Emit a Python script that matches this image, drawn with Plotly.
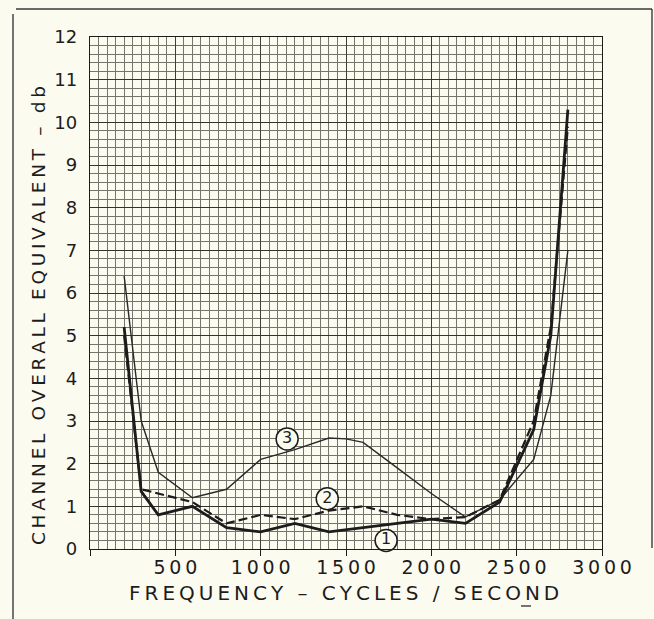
import plotly.graph_objects as go

# ---- data ----
freq_1 = [200, 300, 400, 600, 800, 1000, 1200, 1400, 1600, 1800, 2000, 2200, 2400, 2600, 2700, 2800]
db_1 = [5.2, 1.35, 0.8, 1.0, 0.5, 0.4, 0.6, 0.4, 0.5, 0.6, 0.7, 0.6, 1.1, 2.8, 5.0, 10.3]

freq_2 = [200, 300, 600, 800, 1000, 1200, 1400, 1600, 1800, 2000, 2200, 2400, 2600, 2700, 2800]
db_2 = [5.0, 1.4, 1.1, 0.6, 0.8, 0.7, 0.9, 1.0, 0.8, 0.7, 0.75, 1.15, 3.0, 5.2, 9.9]

freq_3 = [200, 300, 400, 600, 800, 1000, 1200, 1400, 1500, 1600, 1800, 2000, 2200, 2400, 2600, 2700, 2800]
db_3 = [6.4, 3.0, 1.8, 1.2, 1.4, 2.1, 2.33, 2.6, 2.58, 2.5, 1.9, 1.3, 0.75, 1.15, 2.1, 3.6, 7.0]

curve_labels = ["1", "2", "3"]
label_freq = [1735, 1390, 1155]
label_db = [0.2, 1.18, 2.58]

x_tickvals = [0, 500, 1000, 1500, 2000, 2500, 3000]
x_ticktext = ["", "500", "1000", "1500", "2000", "2500", "3000"]
y_tickvals = list(range(0, 13))
y_ticktext = [str(v) for v in y_tickvals]

x_title = "FREQUENCY – CYCLES / SECOND"
y_title = "CHANNEL OVERALL EQUIVALENT – db"

SP = "\u2009"


def spaced(s):
    return SP.join(list(s))


INK = "#1c1c1c"
BG = "#fcfbf0"
FONT = "DejaVu Sans"

fig = go.Figure()

fig.add_trace(go.Scatter(x=freq_3, y=db_3, mode="lines",
                         line=dict(color="#2a2a2a", width=1.4), showlegend=False))
fig.add_trace(go.Scatter(x=freq_2, y=db_2, mode="lines",
                         line=dict(color=INK, width=2.2, dash="9px,4px"), showlegend=False))
fig.add_trace(go.Scatter(x=freq_1, y=db_1, mode="lines",
                         line=dict(color=INK, width=2.8), showlegend=False))

fig.add_trace(go.Scatter(
    x=label_freq, y=label_db, mode="markers+text",
    text=curve_labels, textposition="middle center",
    textfont=dict(family=FONT, size=16, color=INK),
    marker=dict(symbol="circle", size=22, color=BG,
                line=dict(color=INK, width=1.5)),
    showlegend=False, cliponaxis=False))

fig.update_xaxes(
    range=[0, 3000],
    tickmode="array", tickvals=x_tickvals, ticktext=[spaced(t) for t in x_ticktext],
    ticks="outside", ticklen=6, tickwidth=1.2, tickcolor=INK,
    ticklabelstandoff=-5,
    tickfont=dict(family=FONT, size=19, color=INK),
    showgrid=True, gridcolor="#3e3e3a", gridwidth=1.1,
    minor=dict(tick0=0, dtick=50, showgrid=True, gridcolor="#74736c", gridwidth=0.9, ticks=""),
    showline=True, mirror=True, linecolor=INK, linewidth=1.3,
    zeroline=False,
)
fig.update_yaxes(
    range=[0, 12],
    tickmode="array", tickvals=y_tickvals, ticktext=y_ticktext,
    ticks="", ticklabelstandoff=8,
    tickfont=dict(family=FONT, size=18, color=INK),
    showgrid=True, gridcolor="#33332f", gridwidth=1.4,
    minor=dict(tick0=0, dtick=0.2, showgrid=True, gridcolor="#74736c", gridwidth=0.9, ticks=""),
    showline=True, mirror=True, linecolor=INK, linewidth=1.3,
    zeroline=False,
)


# pixel -> paper helpers (plot area is 512x512 starting at px 90, 37)
def px_x(p):
    return (p - 90) / 512.0


def px_y(p):
    return (549 - p) / 512.0


fig.add_annotation(text=spaced(x_title), xref="paper", yref="paper",
                   x=px_x(344), y=px_y(593), showarrow=False,
                   font=dict(family=FONT, size=20, color=INK),
                   xanchor="center", yanchor="middle")
fig.add_annotation(text=spaced(y_title), xref="paper", yref="paper",
                   x=px_x(38), y=px_y(316), showarrow=False, textangle=-90,
                   font=dict(family=FONT, size=18.5, color=INK),
                   xanchor="center", yanchor="middle")

frame_lines = [
    (13, 14, 13, 619),
    (16, 9, 652, 9),
    (652, 9, 652, 548),
    (521, 606, 531, 606),
]
for x0, y0, x1, y1 in frame_lines:
    fig.add_shape(type="line", xref="paper", yref="paper",
                  x0=px_x(x0), y0=px_y(y0), x1=px_x(x1), y1=px_y(y1),
                  line=dict(color="#3a3a3a", width=1.4))

fig.update_layout(
    width=654, height=619,
    margin=dict(l=90, r=52, t=37, b=70, autoexpand=False),
    paper_bgcolor=BG, plot_bgcolor=BG,
    font=dict(family=FONT, color=INK),
)

fig.write_html("out.html")
